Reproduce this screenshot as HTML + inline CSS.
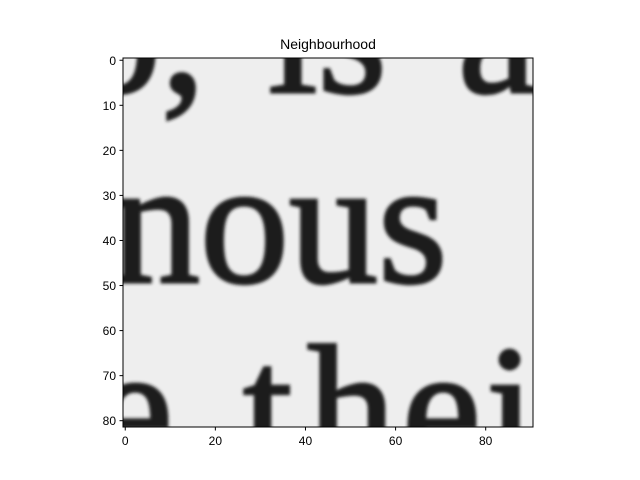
<!DOCTYPE html>
<html><head><meta charset="utf-8"><style>
html,body{margin:0;background:#fff;width:640px;height:480px;overflow:hidden;}
svg{display:block;font-family:"Liberation Sans",sans-serif;}
</style></head><body>
<svg width="640" height="480" viewBox="0 0 640 480">
<defs>
<filter id="bl"><feGaussianBlur stdDeviation="1.5"/></filter>
</defs>
<text x="328" y="49" font-size="14" text-anchor="middle" fill="#000">Neighbourhood</text>
<svg x="123" y="58" width="410" height="369" viewBox="123 58 410 369" overflow="hidden">
<rect x="123" y="58" width="410" height="369" fill="#eeeeee"/>
<g filter="url(#bl)" fill="#1c1c1c" stroke="#1c1c1c" stroke-width="3" font-family="Liberation Serif, serif" font-size="178">
<text x="72" y="92">o,</text>
<text x="268" y="92">is</text>
<text x="458" y="92">a</text>
<text x="111" y="282">nous</text>
<text x="94" y="468">e</text>
<text x="243" y="468">t</text>
<text x="307" y="468">h</text>
<text x="402" y="468">e</text>
<text x="486" y="468">i</text>
</g>
</svg>
<rect x="123" y="58" width="410" height="369" fill="none" stroke="#000" stroke-width="1"/>
<g id="xt"></g>
<g id="yt"></g>
<script>
const xTicks=[0,20,40,60,80];
const yTicks=[0,10,20,30,40,50,60,70,80];
const ns="http://www.w3.org/2000/svg";
const px=410/91, x0=123, y0=58;
const xs=v=>x0+(v+0.5)*px, ys=v=>y0+(v+0.5)*px;
const xt=document.getElementById('xt'), yt=document.getElementById('yt');
xTicks.forEach(v=>{
 const l=document.createElementNS(ns,'line');
 
 
 l.setAttribute('x1',xs(v));l.setAttribute('x2',xs(v));l.setAttribute('y1',427);l.setAttribute('y2',430.5);l.setAttribute('stroke','#000');
 xt.appendChild(l);
 const t=document.createElementNS(ns,'text');
 
 
 t.setAttribute('x',xs(v));t.setAttribute('y',445);t.setAttribute('font-size','12');t.setAttribute('text-anchor','middle');
 t.textContent=v;xt.appendChild(t);
});
yTicks.forEach(v=>{
 const l=document.createElementNS(ns,'line');
 
 
 l.setAttribute('x1',119.5);l.setAttribute('x2',123);l.setAttribute('y1',ys(v));l.setAttribute('y2',ys(v));l.setAttribute('stroke','#000');
 yt.appendChild(l);
 const t=document.createElementNS(ns,'text');
 
 
 t.setAttribute('x',116);t.setAttribute('y',ys(v)+4.5);t.setAttribute('font-size','12');t.setAttribute('text-anchor','end');
 t.textContent=v;yt.appendChild(t);
});
</script>
</svg>
</body></html>
